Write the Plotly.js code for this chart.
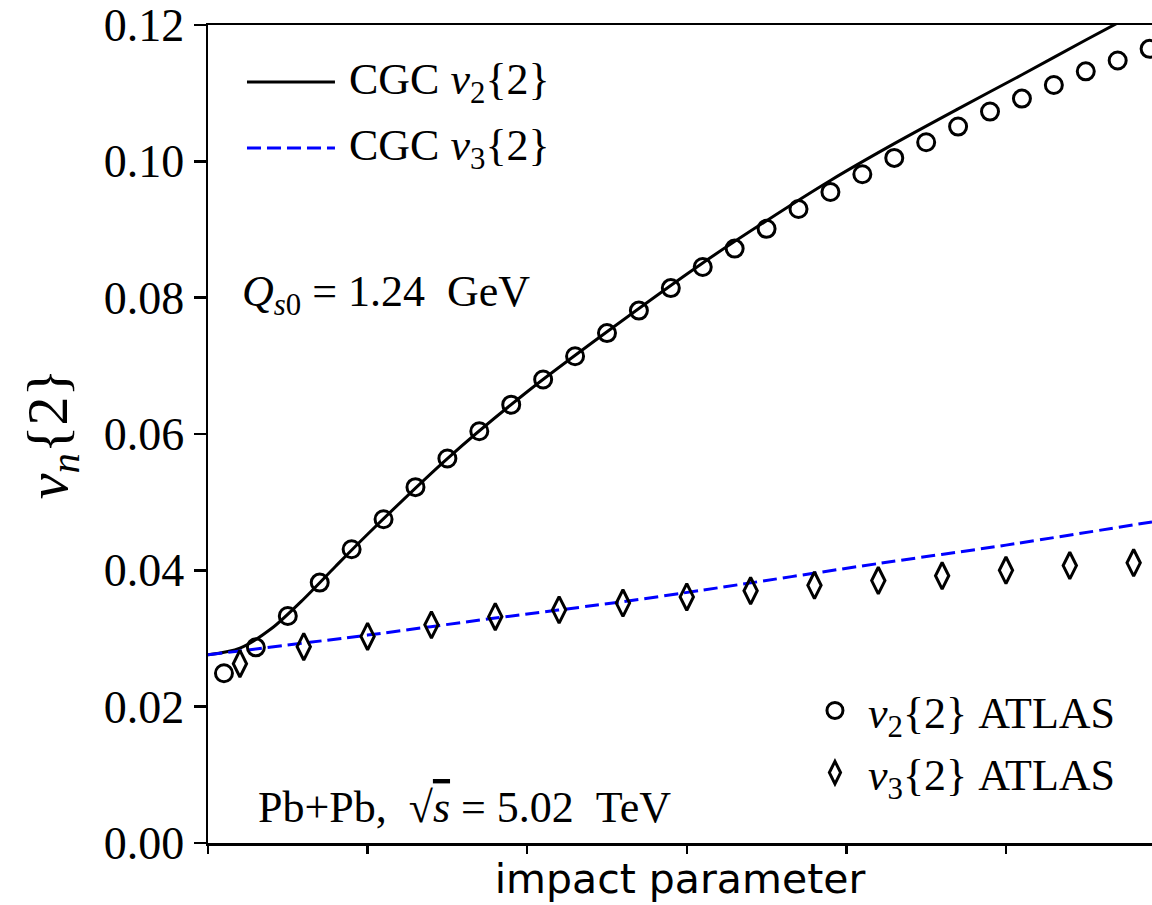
<!DOCTYPE html>
<html>
<head>
<meta charset="utf-8">
<script src="https://cdn.plot.ly/plotly-3.0.1.min.js"></script>
<style>html,body{margin:0;padding:0;background:#fff;}#chart{width:1152px;height:905px;}</style>
</head>
<body>
<div id="chart"></div>
<script>
// ATLAS data points (impact parameter in arbitrary units)
const v2AtlasX = [0.1,0.3,0.5,0.7,0.9,1.1,1.3,1.5,1.7,1.9,2.1,2.3,2.5,2.7,2.9,3.1,3.3,3.5,3.7,3.9,4.1,4.3,4.5,4.7,4.9,5.1,5.3,5.5,5.7,5.9];
const v2AtlasY = [0.0249,0.0287,0.0333,0.0382,0.0431,0.0475,0.0522,0.0564,0.0604,0.0643,0.0680,0.0714,0.0748,0.0781,0.0814,0.0845,0.0872,0.0901,0.0930,0.0955,0.0981,0.1005,0.1028,0.1051,0.1073,0.1092,0.1112,0.1132,0.1148,0.1165];
const v3AtlasX = [0.2,0.6,1.0,1.4,1.8,2.2,2.6,3.0,3.4,3.8,4.2,4.6,5.0,5.4,5.8];
const v3AtlasY = [0.0263,0.0288,0.0303,0.0320,0.0332,0.0342,0.0352,0.0361,0.0370,0.0378,0.0385,0.0392,0.0400,0.0407,0.0411];

// CGC calculations
const cgcV2X = [0,0.2,0.4,0.6,0.8,1.0,1.5,2.0,2.5,3.1,3.5,3.9,4.3,4.7,5.1,5.5,5.9];
const cgcV2Y = [0.0276,0.0286,0.0315,0.0358,0.0406,0.0453,0.0564,0.0662,0.0750,0.0851,0.0913,0.0972,0.1026,0.1077,0.1127,0.1178,0.1228];
const cgcV3X = [0,1.0,1.8,2.6,3.1,4.2,5.0,5.915];
const cgcV3Y = [0.0276,0.0305,0.0330,0.0354,0.0371,0.0410,0.0437,0.0471];

const cgcNames = ['CGC <i>v</i><sub>2</sub>{2}', 'CGC <i>v</i><sub>3</sub>{2}'];
const atlasNames = ['<i>v</i><sub>2</sub>{2}\u00A0ATLAS', '<i>v</i><sub>3</sub>{2}\u00A0ATLAS'];

const yTicks = [0,0.02,0.04,0.06,0.08,0.10,0.12];
const xTicks = [0,1,2,3,4,5];

const serif = "Liberation Serif, Times New Roman, serif";
const cgcStyles = [
  {color: '#000000', width: 3, dash: 'solid'},
  {color: '#0000ff', width: 3, dash: '14px,6px'}
];

const traces = [
  {x: cgcV2X, y: cgcV2Y, mode: 'lines', name: cgcNames[0], showlegend: false,
   line: Object.assign({shape: 'spline', smoothing: 0.8}, cgcStyles[0])},
  {x: cgcV3X, y: cgcV3Y, mode: 'lines', name: cgcNames[1], showlegend: false,
   line: Object.assign({shape: 'spline', smoothing: 0.6}, cgcStyles[1])},
  {x: v2AtlasX, y: v2AtlasY, mode: 'markers', name: atlasNames[0], legendgroup: 'c',
   marker: {symbol: 'circle-open', size: 17, color: '#000000', line: {width: 3, color: '#000000'}}},
  {x: v3AtlasX, y: v3AtlasY, mode: 'markers', name: atlasNames[1], legendgroup: 'd',
   marker: {symbol: 'diamond-tall-open', size: 19, color: '#000000', line: {width: 3, color: '#000000'}}}
];

// legend keys for the CGC curves (top-left legend)
const keyRowsY = [0.9303, 0.8496];
const shapes = cgcStyles.map((s, i) => ({
  type: 'line', xref: 'paper', yref: 'paper', x0: 0.0413, x1: 0.1345, y0: keyRowsY[i], y1: keyRowsY[i],
  line: {color: s.color, width: s.width, dash: s.dash}
}));
const legendText = cgcNames.map((n, i) => ({
  xref: 'paper', yref: 'paper', x: 0.1472, y: keyRowsY[i], xanchor: 'left', yanchor: 'middle', showarrow: false,
  text: n, font: {family: serif, size: 44, color: '#000'}
}));

const layout = {
  width: 1152, height: 905,
  margin: {l: 208, r: 0, t: 25, b: 62, pad: 0},
  paper_bgcolor: '#ffffff', plot_bgcolor: '#ffffff',
  showlegend: true,
  xaxis: {
    range: [0, 5.915], tickmode: 'array', tickvals: xTicks, showticklabels: false,
    ticks: 'outside', ticklen: 8, tickwidth: 2.5, tickcolor: '#000',
    showline: true, linewidth: 2.5, linecolor: '#000', mirror: true,
    showgrid: false, zeroline: false,
    title: {text: 'impact parameter', font: {family: 'DejaVu Sans', size: 41, color: '#000'}, standoff: 12}
  },
  yaxis: {
    range: [0, 0.12], tickmode: 'array', tickvals: yTicks, tickformat: '.2f',
    ticks: 'outside', ticklen: 12, tickwidth: 2.5, tickcolor: '#000',
    showline: true, linewidth: 2.5, linecolor: '#000', mirror: false,
    showgrid: false, zeroline: false,
    tickfont: {family: serif, size: 46, color: '#000'},
    title: {text: '<i>v</i><sub><i>n</i></sub>{2}', font: {family: serif, size: 58, color: '#000'}, standoff: 18}
  },
  legend: {
    x: 0.6292, y: 0.205, xanchor: 'left', yanchor: 'top',
    font: {family: serif, size: 44, color: '#000'},
    bgcolor: 'rgba(0,0,0,0)', borderwidth: 0, traceorder: 'grouped', tracegroupgap: 2,
    itemwidth: 56
  },
  shapes: shapes,
  annotations: legendText.concat([
    {xref: 'paper', yref: 'paper', x: 0.034, y: 0.670, xanchor: 'left', yanchor: 'middle', showarrow: false,
     text: '<i>Q</i><sub><i>s</i>0</sub>\u00A0=\u00A01.24\u00A0\u00A0GeV', font: {family: serif, size: 44, color: '#000'}},
    {xref: 'paper', yref: 'paper', x: 0.051, y: 0.043, xanchor: 'left', yanchor: 'middle', showarrow: false,
     text: 'Pb+Pb,\u00A0\u00A0√<span style="text-decoration:overline"><i>s</i></span>\u00A0=\u00A05.02\u00A0\u00A0TeV', font: {family: serif, size: 44, color: '#000'}}
  ])
};

Plotly.newPlot('chart', traces, layout, {displayModeBar: false, staticPlot: true});
</script>
</body>
</html>
